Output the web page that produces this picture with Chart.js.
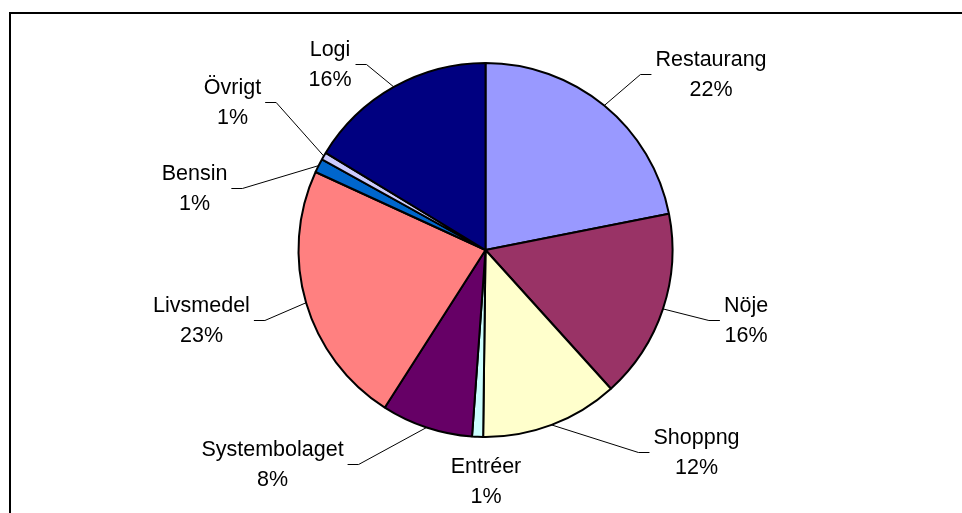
<!DOCTYPE html>
<html lang="sv">

<head>
  <meta charset="UTF-8">
  <meta name="viewport" content="width=device-width, initial-scale=1.0">
  <title>Utgifter</title>
  <script src="https://cdn.jsdelivr.net/npm/chart.js"></script>
  <style>
    html, body { margin: 0; padding: 0; overflow: hidden; background: #fff; }
    .frame {
      position: absolute; left: 9px; top: 12px;
      width: 2000px; height: 2000px;
      border: 2px solid #000;
    }
    .wrap { position: absolute; left: 0; top: 0; width: 962px; height: 513px; }
  </style>
</head>

<body>
  <div class="frame"></div>
  <div class="wrap">
    <canvas id="myChart"></canvas>
  </div>

  <script>
    // data (share of total, %)
    const categories = ["Restaurang", "Nöje", "Shoppng", "Entréer", "Systembolaget", "Livsmedel", "Bensin", "Övrigt", "Logi"]
    const values = [21.9, 16.4, 11.9, 0.95, 7.9, 22.8, 1.2, 0.65, 16.3]
    const colors = ["#9999FF", "#993366", "#FFFFCC", "#CCFFFF", "#660066", "#FF8080", "#0066CC", "#CCCCFF", "#000080"]

    // where each label sits, px from the pie centre, and whether it gets a leader line
    const labelLayout = [
      { dx: 225.5, dy: -177, leader: true },
      { dx: 260.5, dy: 69, leader: true },
      { dx: 211, dy: 201, leader: true },
      { dx: 0.5, dy: 230.5, leader: false },
      { dx: -213, dy: 213, leader: true },
      { dx: -284, dy: 69, leader: true },
      { dx: -291, dy: -63, leader: true },
      { dx: -253, dy: -149, leader: true },
      { dx: -155.5, dy: -187, leader: true }
    ]

    const fontSize = 21.5
    const lineGap = 30

    const pieLabels = {
      id: 'pieLabels',
      afterDatasetsDraw(chart) {
        const { ctx } = chart
        const meta = chart.getDatasetMeta(0)
        const total = values.reduce((a, b) => a + b, 0)
        ctx.save()
        ctx.font = fontSize + 'px "Liberation Sans", Arial, sans-serif'
        ctx.fillStyle = '#000'
        ctx.strokeStyle = '#000'
        ctx.lineWidth = 1
        meta.data.forEach((arc, i) => {
          const p = arc.getProps(['x', 'y', 'startAngle', 'endAngle', 'outerRadius'], true)
          const mid = (p.startAngle + p.endAngle) / 2
          const lay = labelLayout[i]
          const cx = p.x + lay.dx
          const cy = p.y + lay.dy
          const line1 = categories[i]
          const line2 = Math.round(values[i] / total * 100) + '%'
          const half = Math.max(ctx.measureText(line1).width, ctx.measureText(line2).width) / 2

          if (lay.leader) {
            const ax = p.x + Math.cos(mid) * p.outerRadius
            const ay = p.y + Math.sin(mid) * p.outerRadius
            const side = cx > p.x ? -1 : 1
            const endX = cx + side * (half + 4)
            const elbowX = endX + side * 11
            const ly = cy + 1.5
            ctx.beginPath()
            ctx.moveTo(ax, ay)
            ctx.lineTo(elbowX, ly)
            ctx.lineTo(endX, ly)
            ctx.stroke()
          }

          ctx.textAlign = 'center'
          ctx.textBaseline = 'alphabetic'
          const shift = fontSize * 0.358
          ctx.fillText(line1, cx, cy - lineGap / 2 + shift)
          ctx.fillText(line2, cx, cy + lineGap / 2 + shift)
        })
        ctx.restore()
      }
    }

    const ctx = document.getElementById("myChart")
    const mychart = new Chart(ctx, {
      type: "pie",
      data: {
        labels: categories,
        datasets: [{
          data: values,
          backgroundColor: colors,
          borderColor: "#000",
          borderWidth: 2,
          hoverOffset: 0
        }]
      },
      options: {
        responsive: true,
        maintainAspectRatio: false,
        animation: false,
        layout: {
          padding: { top: 62, bottom: 75, left: 9, right: 0 }
        },
        plugins: {
          legend: { display: false },
          tooltip: { enabled: false }
        }
      },
      plugins: [pieLabels]
    })
  </script>

</body>

</html>
